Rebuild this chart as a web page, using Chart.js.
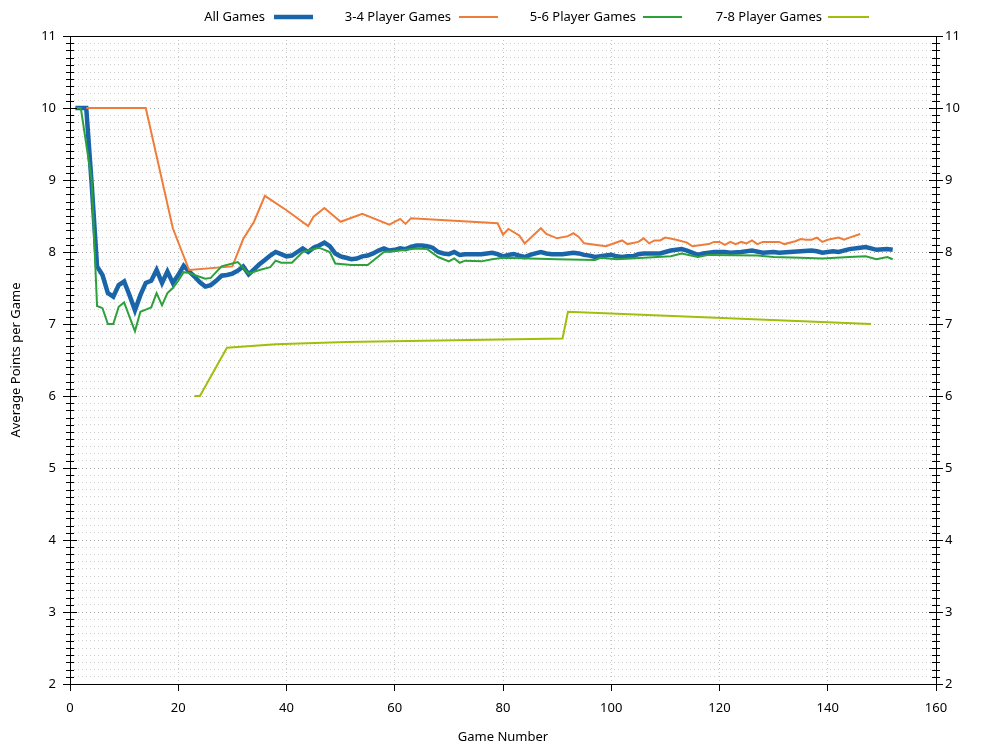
<!DOCTYPE html>
<html><head><meta charset="utf-8">
<script src="https://cdn.jsdelivr.net/npm/chart.js@4.4.0/dist/chart.umd.min.js"></script>
<style>html,body{margin:0;padding:0;background:#fff}</style>
</head><body>
<canvas id="c" width="1000" height="750" style="width:1000px;height:750px;display:block"></canvas>
<script>
// ---- data (game number, average points per game) ----
const seriesNames = ['All Games', '3-4 Player Games', '5-6 Player Games', '7-8 Player Games'];
const xTicks = [0, 20, 40, 60, 80, 100, 120, 140, 160];
const yTicks = [2, 3, 4, 5, 6, 7, 8, 9, 10, 11];

const allGames = [
 [1,10],[2,10],[3,10],[4,8.95],[5,7.8],[6,7.68],[7,7.43],[8,7.38],[9,7.54],[10,7.59],
 [11,7.4],[12,7.19],[13,7.4],[14,7.57],[15,7.6],[16,7.75],[17,7.57],[18,7.73],[19,7.57],[20,7.68],
 [21,7.81],[22,7.73],[23,7.66],[24,7.58],[25,7.52],[26,7.54],[27,7.6],[28,7.67],[29,7.68],[30,7.7],
 [31,7.74],[32,7.8],[33,7.69],[34,7.76],[35,7.83],[36,7.89],[37,7.95],[38,8.0],[39,7.97],[40,7.94],
 [41,7.95],[42,8.0],[43,8.05],[44,8.0],[45,8.06],[46,8.09],[47,8.13],[48,8.08],[49,7.98],[50,7.94],
 [51,7.92],[52,7.9],[53,7.91],[54,7.94],[55,7.95],[56,7.98],[57,8.02],[58,8.05],[59,8.02],[60,8.03],
 [61,8.05],[62,8.04],[63,8.07],[64,8.09],[65,8.09],[66,8.08],[67,8.06],[68,8.0],[69,7.98],[70,7.97],
 [71,8.0],[72,7.96],[73,7.97],[74,7.97],[75,7.97],[76,7.97],[77,7.98],[78,7.99],[79,7.97],[80,7.94],
 [81,7.96],[82,7.97],[83,7.95],[84,7.93],[85,7.96],[86,7.98],[87,8.0],[88,7.98],[89,7.97],[90,7.97],
 [91,7.97],[92,7.98],[93,7.99],[94,7.98],[95,7.96],[96,7.95],[97,7.93],[98,7.94],[99,7.95],[100,7.96],
 [101,7.94],[102,7.93],[103,7.94],[104,7.94],[105,7.97],[106,7.98],[107,7.98],[109,7.98],[111,8.02],[113,8.04],
 [114,8.02],[116,7.96],[117,7.98],[119,8.0],[121,8.0],[122,7.99],[124,8.0],[126,8.02],[128,7.99],[130,8.0],
 [131,7.99],[133,8.0],[135,8.01],[137,8.02],[138,8.01],[139,7.99],[141,8.01],[142,8.0],[144,8.04],[146,8.06],
 [147,8.07],[148,8.05],[149,8.03],[151,8.04],[152,8.03]
];
const games34 = [
 [3,10],[14,10],[19,8.33],[22,7.75],[30,7.8],[32,8.18],[34,8.42],[36,8.78],[40,8.58],[44,8.36],
 [45,8.49],[47,8.61],[50,8.42],[54,8.53],[59,8.38],[61,8.46],[62,8.39],[63,8.47],[79,8.40],[80,8.24],
 [81,8.32],[83,8.23],[84,8.12],[87,8.33],[88,8.25],[90,8.19],[92,8.22],[93,8.26],[94,8.21],[95,8.12],
 [99,8.08],[102,8.16],[103,8.11],[105,8.14],[106,8.19],[107,8.12],[108,8.16],[109,8.16],[110,8.2],[112,8.17],
 [114,8.13],[115,8.08],[118,8.11],[119,8.14],[120,8.14],[121,8.1],[122,8.14],[123,8.11],[124,8.14],[125,8.12],
 [126,8.16],[127,8.11],[128,8.14],[131,8.14],[132,8.11],[134,8.15],[135,8.18],[136,8.17],[137,8.17],[138,8.2],
 [139,8.14],[140,8.17],[142,8.2],[143,8.17],[144,8.2],[146,8.25]
];
const games56 = [
 [1,10],[2,10],[3,9.5],[4,9.0],[5,7.25],[6,7.22],[7,7.0],[8,7.0],[9,7.24],[10,7.3],
 [11,7.1],[12,6.9],[13,7.17],[14,7.2],[15,7.23],[16,7.43],[17,7.26],[18,7.43],[19,7.5],[20,7.6],
 [21,7.72],[22,7.71],[23,7.68],[25,7.63],[26,7.64],[28,7.8],[30,7.84],[31,7.86],[33,7.7],[35,7.75],
 [37,7.79],[38,7.88],[39,7.85],[41,7.85],[43,8.0],[44,8.02],[46,8.06],[48,8.0],[49,7.84],[52,7.82],
 [55,7.82],[58,8.0],[61,8.02],[64,8.05],[66,8.04],[68,7.93],[70,7.87],[71,7.91],[72,7.85],[73,7.88],
 [76,7.87],[78,7.9],[80,7.92],[90,7.9],[97,7.89],[98,7.92],[101,7.9],[106,7.92],[111,7.94],[113,7.98],
 [116,7.93],[118,7.96],[127,7.95],[130,7.93],[135,7.92],[139,7.91],[144,7.93],[147,7.94],[149,7.9],[151,7.93],
 [152,7.9]
];
const games78 = [
 [23,6.0],[24,6.0],[29,6.67],[38,6.72],[51,6.75],[91,6.8],[92,7.17],[148,7.0]
];

const colors = ['#1a65a9', '#ef7d3a', '#2ca13a', '#a2bd0a'];
const widths = [4.5, 2, 2, 2];
const FONT = '"Noto Sans", "Open Sans", sans-serif';
const FS = 13;

function toPts(a){ return a.map(p => ({x:p[0], y:p[1]})); }
function isInt(v){ return Math.abs(v - Math.round(v)) < 1e-6; }

const frameAndTicks = {
  id: 'frameAndTicks',
  afterDraw(chart){
    const ctx = chart.ctx, a = chart.chartArea, ys = chart.scales.y;
    ctx.save();
    ctx.strokeStyle = '#000'; ctx.lineWidth = 1;
    ctx.strokeRect(Math.round(a.left)+0.5, Math.round(a.top)+0.5, Math.round(a.right-a.left), Math.round(a.bottom-a.top));
    ctx.beginPath();
    ys.ticks.forEach(t => {
      const y = Math.round(ys.getPixelForValue(t.value)) + 0.5;
      const L = isInt(t.value) ? 7 : 4;
      ctx.moveTo(a.left - L, y); ctx.lineTo(a.left + L, y);
      ctx.moveTo(a.right - L, y); ctx.lineTo(a.right + L, y);
    });
    ctx.stroke();
    // legend: text then sample line
    const textEnd = [265, 451, 636, 822];
    const sx = [[274,313],[459,498],[643,682],[828,869]];
    ctx.font = FS + 'px ' + FONT;
    ctx.fillStyle = '#000'; ctx.textAlign = 'right'; ctx.textBaseline = 'middle';
    chart.data.datasets.forEach((ds, i) => {
      ctx.fillText(ds.label, textEnd[i], 17);
      ctx.beginPath(); ctx.strokeStyle = ds.borderColor; ctx.lineWidth = ds.borderWidth;
      ctx.moveTo(sx[i][0], 17); ctx.lineTo(sx[i][1], 17); ctx.stroke();
    });
    ctx.restore();
  }
};

const series = [allGames, games34, games56, games78];
const yTickCb = v => (isInt(v) && yTicks.includes(Math.round(v))) ? String(Math.round(v)) : '';

new Chart(document.getElementById('c'), {
  type: 'line',
  data: {
    datasets: series.map((s, i) => ({
      label: seriesNames[i], data: toPts(s), borderColor: colors[i], backgroundColor: colors[i],
      borderWidth: widths[i], pointRadius: 0, tension: 0, fill: false, order: 4 - i
    }))
  },
  options: {
    responsive: false, animation: false, devicePixelRatio: 1,
    layout: { padding: { top: 36, left: 0, right: 0, bottom: 0 } },
    plugins: { legend: { display: false }, tooltip: { enabled: false } },
    scales: {
      x: {
        type: 'linear', position: 'bottom', min: 0, max: 160,
        afterBuildTicks: s => { s.ticks = xTicks.map(v => ({value: v})); },
        ticks: { font: { family: FONT, size: FS }, color: '#000', padding: 9, maxRotation: 0, autoSkip: false },
        grid: { color: '#c4c4c4', lineWidth: 1, drawTicks: true, tickLength: 7, tickColor: '#000', tickWidth: 1 },
        border: { display: false, dash: [1, 3] },
        title: { display: true, text: 'Game Number', color: '#000', font: { family: FONT, size: FS }, padding: { top: 0, bottom: 5 } },
        afterFit: s => { s.height = 66; }
      },
      y: {
        type: 'linear', position: 'left', min: 2, max: 11,
        ticks: { stepSize: 0.1, maxTicksLimit: 200, autoSkip: false, callback: yTickCb, font: { family: FONT, size: FS }, color: '#000', padding: 14 },
        grid: { color: c => isInt(c.tick.value) ? '#a8a8a8' : '#cdcdcd', lineWidth: 1, drawTicks: false },
        border: { display: false, dash: [1, 3] },
        title: { display: true, text: 'Average Points per Game', color: '#000', font: { family: FONT, size: FS }, padding: { top: 8, bottom: 0 } },
        afterFit: s => { s.width = 70; }
      },
      y2: {
        type: 'linear', position: 'right', min: 2, max: 11,
        ticks: { stepSize: 0.1, maxTicksLimit: 200, autoSkip: false, callback: yTickCb, font: { family: FONT, size: FS }, color: '#000', padding: 9 },
        grid: { drawOnChartArea: false, drawTicks: false },
        border: { display: false },
        afterFit: s => { s.width = 64; }
      }
    }
  },
  plugins: [frameAndTicks]
});
</script>
</body></html>
